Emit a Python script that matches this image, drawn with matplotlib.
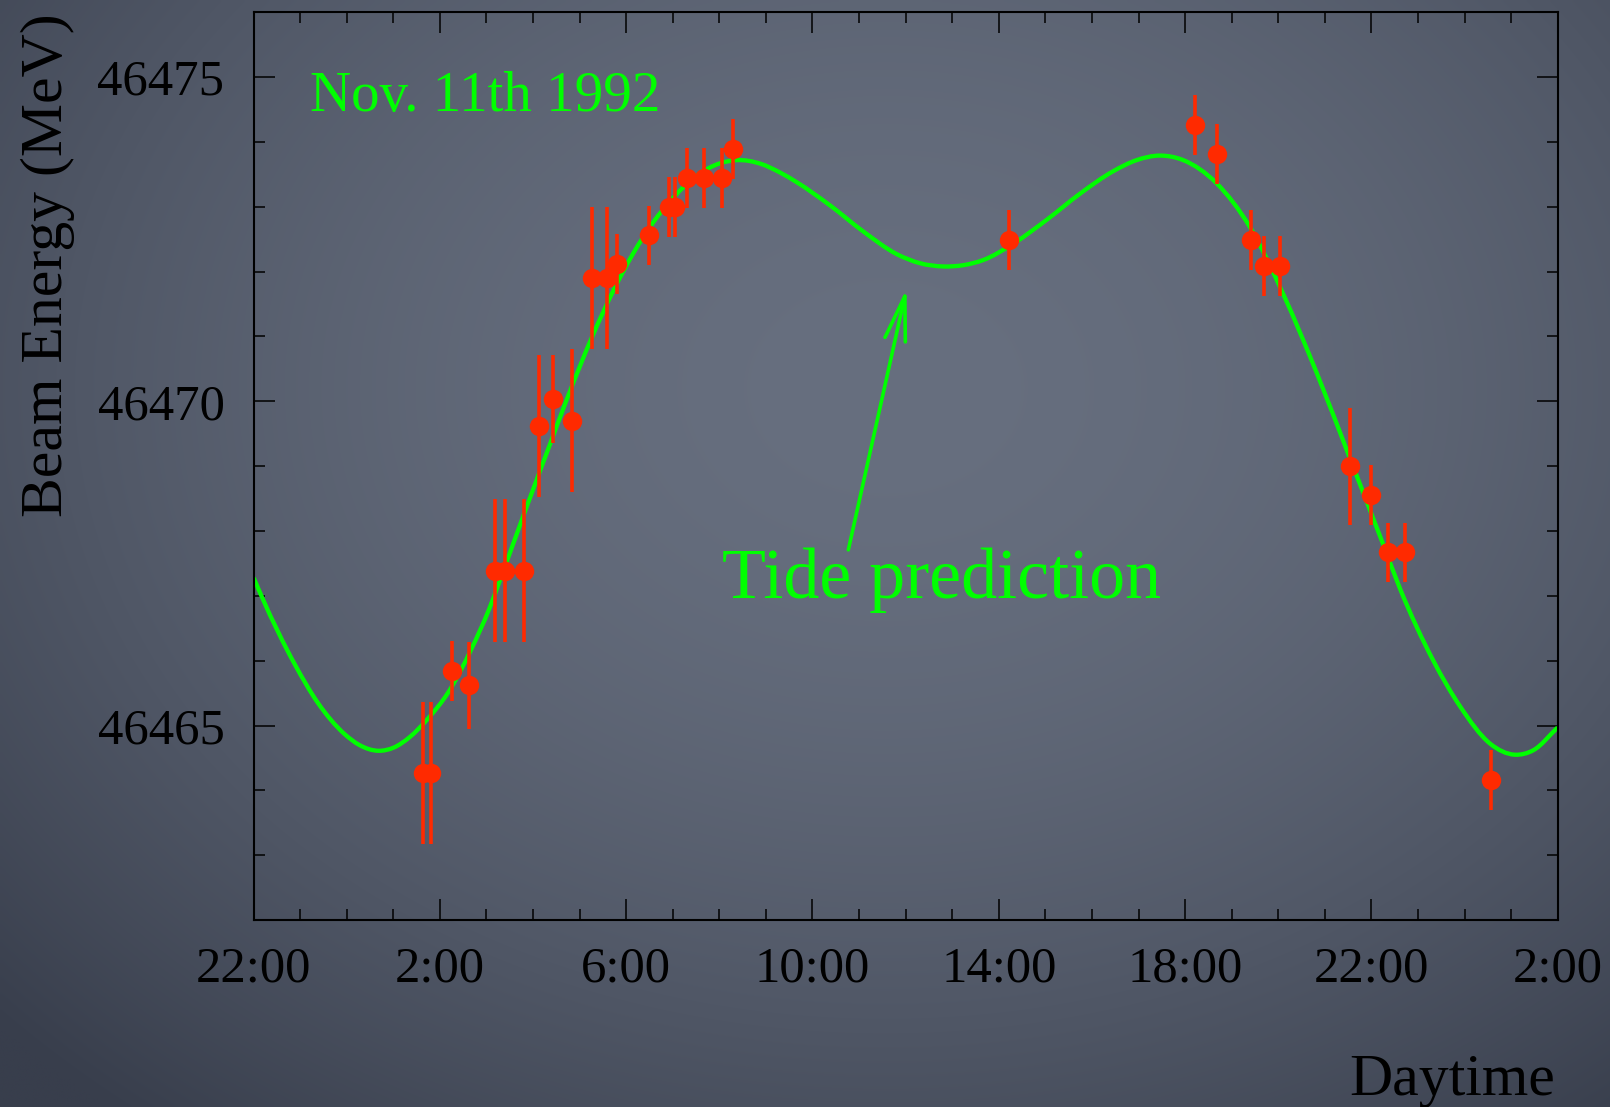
import numpy as np
import matplotlib.pyplot as plt
from matplotlib.path import Path
from matplotlib.patches import PathPatch
from matplotlib.ticker import MultipleLocator, FixedLocator, FuncFormatter

plt.rcParams['font.family'] = ['Liberation Serif', 'DejaVu Serif']

# measured beam energy (MeV) vs. hours after midnight, Nov. 11th 1992
hours = [1.64, 1.81, 2.27, 2.63, 3.18, 3.40, 3.80, 4.13, 4.42, 4.83,
         5.27, 5.59, 5.80, 6.49, 6.91, 7.05, 7.30, 7.67, 8.05, 8.29,
         14.21, 18.21, 18.68, 19.42, 19.69, 20.04, 21.54, 22.00, 22.35, 22.72,
         24.56]
energy = [46464.27, 46464.27, 46465.84, 46465.62, 46467.39, 46467.39, 46467.39, 46469.62, 46470.03, 46469.70,
          46471.90, 46471.90, 46472.12, 46472.56, 46473.00, 46473.00, 46473.44, 46473.44, 46473.44, 46473.89,
          46472.49, 46474.26, 46473.81, 46472.49, 46472.09, 46472.09, 46469.00, 46468.56, 46467.67, 46467.67,
          46464.16]
errors = [1.1, 1.1, 0.46, 0.67, 1.1, 1.1, 1.1, 1.1, 0.68, 1.1,
          1.1, 1.1, 0.46, 0.46, 0.46, 0.46, 0.46, 0.46, 0.46, 0.46,
          0.46, 0.46, 0.46, 0.46, 0.46, 0.46, 0.9, 0.46, 0.46, 0.46,
          0.46]

# tide prediction curve
tide_hours = [-2.0, -1.82, -1.12, -0.62, -0.05, 0.27, 0.69, 1.01, 1.35, 1.76,
              2.17, 2.67, 3.06, 3.33, 3.80, 4.36, 4.72, 5.29, 5.72, 6.15,
              6.58, 7.01, 7.51, 8.01, 8.37, 8.90, 9.30, 9.66, 10.38, 11.09,
              11.81, 12.31, 12.81, 13.24, 13.67, 14.31, 15.03, 15.74, 16.46, 16.96,
              17.46, 17.96, 18.68, 19.39, 20.11, 20.82, 21.54, 22.25, 22.61, 23.33,
              23.90, 24.55, 25.08, 25.48, 26.0]
tide_energy = [46467.28, 46466.98, 46465.95, 46465.35, 46464.87, 46464.70, 46464.61, 46464.66, 46464.82, 46465.12,
               46465.50, 46466.17, 46466.80, 46467.32, 46468.25, 46469.33, 46470.02, 46471.03, 46471.70, 46472.28,
               46472.76, 46473.14, 46473.48, 46473.67, 46473.72, 46473.66, 46473.53, 46473.38, 46473.02, 46472.62,
               46472.27, 46472.13, 46472.08, 46472.10, 46472.18, 46472.43, 46472.80, 46473.20, 46473.55, 46473.72,
               46473.79, 46473.72, 46473.36, 46472.69, 46471.65, 46470.45, 46469.12, 46467.80, 46467.12, 46466.00,
               46465.30, 46464.72, 46464.55, 46464.62, 46464.97]

major_hours = [-2, 2, 6, 10, 14, 18, 22, 26]


def smooth_path(x, y):
    # cubic Hermite segments through the samples, as Bezier curves
    x = np.asarray(x, float)
    y = np.asarray(y, float)
    dx = np.diff(x)
    s = np.diff(y) / dx
    m = np.empty_like(y)
    m[1:-1] = (s[:-1] * dx[1:] + s[1:] * dx[:-1]) / (dx[:-1] + dx[1:])
    m[0], m[-1] = s[0], s[-1]
    verts = [(x[0], y[0])]
    codes = [Path.MOVETO]
    for i in range(len(x) - 1):
        h = dx[i] / 3
        verts += [(x[i] + h, y[i] + m[i] * h),
                  (x[i + 1] - h, y[i + 1] - m[i + 1] * h),
                  (x[i + 1], y[i + 1])]
        codes += [Path.CURVE4] * 3
    return Path(verts, codes)


fig = plt.figure(figsize=(16.1, 11.07), dpi=100)

# slate background with darker corners
bg = fig.add_axes([0, 0, 1, 1], zorder=-10)
yy, xx = np.mgrid[0:1:300j, 0:1:420j]
r = np.sqrt(((xx - 0.55) / 0.75) ** 2 + ((yy - 0.35) / 0.85) ** 2)
t = np.clip(r, 0, 1) ** 1.8
centre = np.array([103, 111, 127]) / 255
edge = np.array([56, 62, 76]) / 255
img = centre[None, None, :] * (1 - t[..., None]) + edge[None, None, :] * t[..., None]
bg.imshow(img, aspect='auto', extent=[0, 1, 0, 1], origin='upper', interpolation='bilinear')
bg.axis('off')

ax = fig.add_axes([0.1575, 0.1689, 0.81, 0.82])
ax.set_facecolor('none')

ax.add_patch(PathPatch(smooth_path(tide_hours, tide_energy), fill=False,
                       edgecolor='#00ff00', lw=3.1, zorder=2))
ax.errorbar(hours, energy, yerr=errors, fmt='o', color='#ff2a00', ms=14, mew=0,
            elinewidth=2.6, capsize=0, zorder=3)

ax.set_xlim(-2, 26)
ax.set_ylim(46462, 46476)

ax.xaxis.set_major_locator(FixedLocator(major_hours))
ax.xaxis.set_minor_locator(MultipleLocator(1))
ax.xaxis.set_major_formatter(FuncFormatter(lambda v, p: f"{int(v) % 24}:00"))
ax.yaxis.set_major_locator(MultipleLocator(5))
ax.yaxis.set_minor_locator(MultipleLocator(1))
ax.yaxis.set_major_formatter(FuncFormatter(lambda v, p: f"{int(round(v))}"))

ax.tick_params(which='both', direction='in', top=True, right=True, width=1.1, color='black')
ax.tick_params(which='major', length=15, labelsize=36.5)
ax.tick_params(which='minor', length=8)
ax.tick_params(axis='x', which='major', pad=19)
ax.tick_params(axis='y', which='major', pad=21)
for s in ax.spines.values():
    s.set_linewidth(1.5)
    s.set_color('black')

ax.text(-0.79, 46474.48, "Nov. 11th 1992", color='#00ff00', fontsize=41, va='baseline')
ax.text(8.05, 46466.97, "Tide prediction", color='#00ff00', fontsize=51.8, va='baseline')
ax.annotate("", xy=(12.02, 46471.74), xytext=(10.77, 46467.71),
            arrowprops=dict(arrowstyle='->,head_length=3.2,head_width=0.75',
                            color='#00ff00', lw=2.6, shrinkA=0, shrinkB=0))

fig.text(48 / 1610, 1 - 13 / 1107, "Beam Energy (MeV)", rotation=90, fontsize=43,
         ha='center', va='top')
fig.text(1555 / 1610, 1 - 1095 / 1107, "Daytime", fontsize=43, ha='right', va='baseline')

fig.savefig('out.png', dpi=100)
